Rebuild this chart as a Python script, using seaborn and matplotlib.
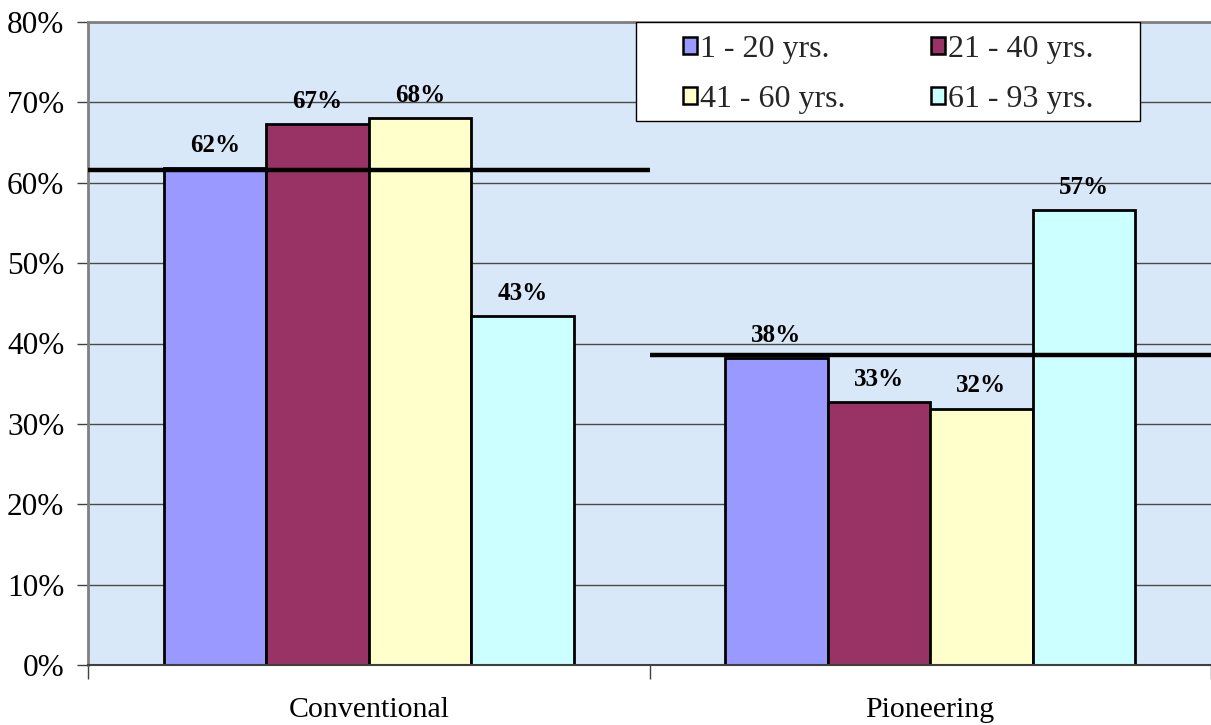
import matplotlib
matplotlib.use("Agg")
import matplotlib.pyplot as plt
import matplotlib.patches as mpatches
from matplotlib.ticker import FuncFormatter, FixedLocator
import seaborn as sns
import pandas as pd

# ---- data ----
categories = ["Conventional", "Pioneering"]
age_groups = ["1 - 20 yrs.", "21 - 40 yrs.", "41 - 60 yrs.", "61 - 93 yrs."]
conventional = [61.8, 67.3, 68.1, 43.4]
pioneering = [38.2, 32.7, 31.9, 56.6]
averages = [61.6, 38.6]
colors = ["#9999FF", "#993366", "#FFFFCC", "#CCFFFF"]
y_ticks = [0, 10, 20, 30, 40, 50, 60, 70, 80]

rows = []
for cat, vals in zip(categories, [conventional, pioneering]):
    for g, v in zip(age_groups, vals):
        rows.append({"category": cat, "age": g, "value": v})
df = pd.DataFrame(rows)

sns.set_theme(style="white")
plt.rcParams["font.family"] = ["Liberation Serif", "DejaVu Serif"]

fig = plt.figure(figsize=(12.11, 7.25), dpi=100)
ax = fig.add_axes([88 / 1211, 60 / 725, 1123 / 1211, 643 / 725])
ax.set_facecolor("#D9E8F8")

sns.barplot(data=df, x="category", y="value", hue="age", hue_order=age_groups,
            order=categories, palette=colors, width=0.73, gap=0, errorbar=None,
            edgecolor="black", linewidth=2.0, saturation=1, legend=False, ax=ax,
            zorder=2)

ax.set_xlim(-0.5, 1.5)
ax.set_ylim(0, 80)
ax.set_yticks(y_ticks)
ax.yaxis.set_major_formatter(FuncFormatter(lambda v, p: f"{int(v)}%"))
ax.set_xlabel("")
ax.set_ylabel("")

# gridlines
ax.set_axisbelow(True)
ax.yaxis.grid(True, color="#4a4a4a", linewidth=1.0)
ax.xaxis.grid(False)

# average lines
for i, avg in enumerate(averages):
    ax.hlines(avg, i - 0.5, i + 0.5, colors="black", linewidth=3.2, zorder=3)

# data labels
for cont in ax.containers:
    labels = [f"{round(b.get_height())}%" for b in cont]
    ax.bar_label(cont, labels=labels, padding=8, fontsize=18, fontweight="bold",
                 color="black", zorder=4)

# ticks
ax.tick_params(axis="y", which="major", direction="out", length=8, width=1,
               color="#404040", pad=9, labelsize=22.5, left=True, labelcolor="black")
ax.tick_params(axis="x", which="major", length=0, pad=23, labelsize=21.5,
               labelcolor="black")
ax.xaxis.set_minor_locator(FixedLocator([-0.5, 0.5, 1.5]))
ax.tick_params(axis="x", which="minor", direction="out", length=10, width=1,
               color="#404040", bottom=True)

for side in ["left", "top", "bottom"]:
    ax.spines[side].set_visible(True)
ax.spines["right"].set_visible(False)
ax.spines["left"].set_color("#808080")
ax.spines["left"].set_linewidth(2)
ax.spines["top"].set_color("#808080")
ax.spines["top"].set_linewidth(2)
ax.spines["bottom"].set_color("#404040")
ax.spines["bottom"].set_linewidth(1.5)

# legend box
box = mpatches.Rectangle(((636 - 88) / 1123, (665 - 121) / 643), (1140 - 636) / 1123,
                         99 / 643, transform=ax.transAxes, facecolor="white",
                         edgecolor="black", linewidth=1.0, zorder=5)
ax.add_patch(box)
handles = [mpatches.Patch(facecolor=c, edgecolor="black", linewidth=1.8) for c in colors]
order = [0, 2, 1, 3]
leg = ax.legend([handles[i] for i in order], [age_groups[i] for i in order],
                ncol=2, loc="upper left",
                bbox_to_anchor=((683 - 88) / 1123, (665 - 35) / 643),
                frameon=False, fontsize=23, handlelength=0.45, handleheight=0.45,
                handletextpad=0.08, columnspacing=2.68, labelspacing=0.65,
                borderpad=0, borderaxespad=0)
leg.set_zorder(6)

fig.savefig("out.png", dpi=100)
